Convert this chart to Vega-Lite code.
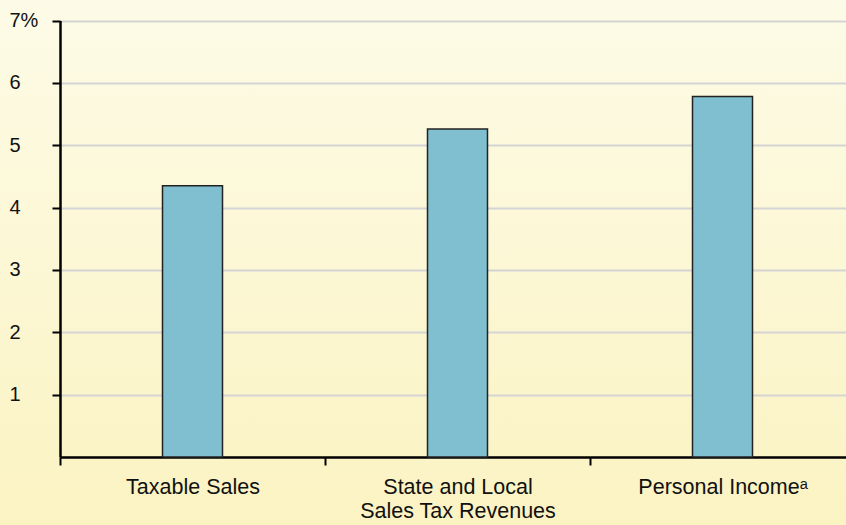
{
  "$schema": "https://vega.github.io/schema/vega-lite/v6.json",
  "width": 846,
  "height": 525,
  "autosize": {"type": "none"},
  "padding": 0,
  "background": "#fcf8da",
  "config": {
    "view": {
      "stroke": null,
      "fill": {
        "gradient": "linear",
        "x1": 0, "y1": 0, "x2": 0, "y2": 1,
        "stops": [
          {"offset": 0, "color": "#fdfbe7"},
          {"offset": 1, "color": "#fbf3c2"}
        ]
      }
    },
    "font": "Liberation Sans"
  },
  "data": {
    "values": [
      {"category": "Taxable Sales", "value": 4.35},
      {"category": "State and Local Sales Tax Revenues", "value": 5.26},
      {"category": "Personal Incomeᵃ", "value": 5.78}
    ]
  },
  "mark": {
    "type": "bar",
    "width": 60,
    "fill": "#80bfd0",
    "stroke": "#222222",
    "strokeWidth": 1.5
  },
  "encoding": {
    "x": {
      "field": "category",
      "type": "nominal",
      "sort": null,
      "scale": {"range": [60, 855], "paddingInner": 0, "paddingOuter": 0},
      "axis": {
        "orient": "bottom",
        "offset": -68,
        "title": null,
        "grid": false,
        "tickBand": "extent",
        "tickSize": 8,
        "tickWidth": 2,
        "tickColor": "#000000",
        "domainColor": "#000000",
        "domainWidth": 2.5,
        "labelAngle": 0,
        "labelFontSize": 21.5,
        "labelColor": "#111111",
        "labelPadding": 11,
        "labelLineHeight": 24,
        "labelLimit": 0,
        "labelOverlap": false,
        "labelBound": false,
        "labelExpr": "datum.label == 'State and Local Sales Tax Revenues' ? ['State and Local', 'Sales Tax Revenues'] : datum.label"
      }
    },
    "y": {
      "field": "value",
      "type": "quantitative",
      "scale": {"domain": [0, 7], "range": [457, 20.5], "nice": false, "zero": true},
      "axis": {
        "orient": "left",
        "offset": -60,
        "title": null,
        "values": [1, 2, 3, 4, 5, 6, 7],
        "labelExpr": "datum.value == 7 ? '7%' : datum.label",
        "labelAlign": "left",
        "labelBaseline": "middle",
        "labelPadding": 43,
        "labelFontSize": 20,
        "labelColor": "#111111",
        "tickSize": 8,
        "tickWidth": 2,
        "tickColor": "#000000",
        "domainColor": "#000000",
        "domainWidth": 2.5,
        "grid": true,
        "gridColor": "#d4d4d4",
        "gridWidth": 2
      }
    }
  }
}
